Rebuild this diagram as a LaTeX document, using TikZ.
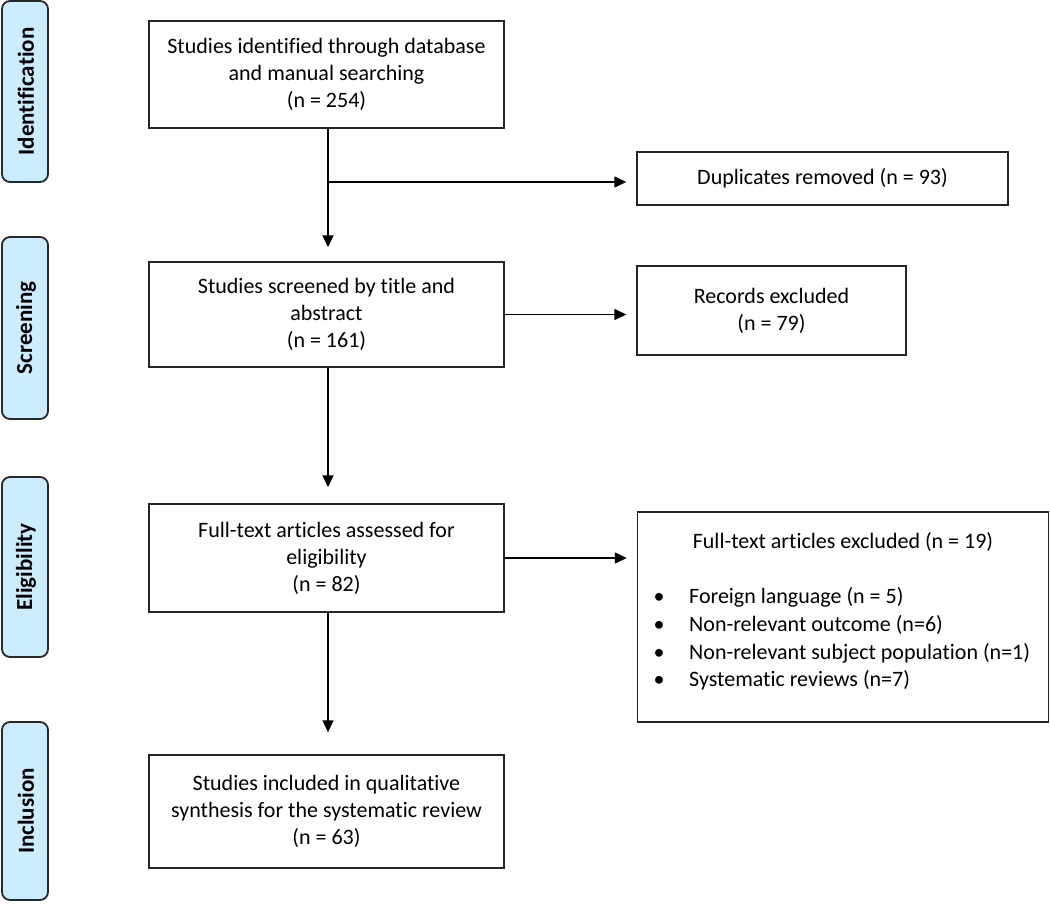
\documentclass[tikz,border=0pt]{standalone}
\usepackage{fontspec}
\setmainfont{Carlito}[Ligatures={NoCommon}]
\usetikzlibrary{arrows.meta}
\definecolor{sidefill}{RGB}{204,236,255}
\definecolor{sideline}{RGB}{40,40,40}
\tikzset{
  side/.style={draw=sideline, line width=1.8pt, fill=sidefill, rounded corners=8pt,
    minimum width=46pt, inner sep=0pt},
  sidetext/.style={rotate=90, font=\fontsize{23}{26}\selectfont\bfseries},
  mainbox/.style={draw=black!85, line width=1.4pt, align=center, inner sep=0pt,
    font=\fontsize{22}{27}\selectfont},
  arr/.style={line width=1.4pt, -{Triangle[length=12pt,width=11pt]}},
  boxtext/.style={font=\fontsize{22}{27}\selectfont, inner sep=0pt},
}
\begin{document}
\begin{tikzpicture}[x=1pt,y=-1pt]
\useasboundingbox (0,0) rectangle (1050,904);
% side labels
\node[side, minimum height=181pt] (sid) at (25,91.5) {};
\node[sidetext] (tid) at (26,91.5) {Identification};
\node[side, minimum height=182pt] (sscr) at (25,328) {};
\node[sidetext] (tscr) at (26,328) {Screening};
\node[side, minimum height=180pt] (seli) at (25,567) {};
\node[sidetext] (teli) at (26,567) {Eligibility};
\node[side, minimum height=178pt] (sinc) at (25,811) {};
\node[sidetext] (tinc) at (26,811) {Inclusion};
% main boxes
\node[mainbox, minimum width=355pt, minimum height=107pt] (b1) at (326.5,74.5)
  {Studies identified through database\\and manual searching\\(n = 254)};
\node[mainbox, minimum width=355pt, minimum height=105pt] (b2) at (326.5,314.5)
  {Studies screened by title and\\abstract\\(n = 161)};
\node[mainbox, minimum width=355pt, minimum height=108pt] (b3) at (326.5,558)
  {Full-text articles assessed for\\eligibility\\(n = 82)};
\node[mainbox, minimum width=355pt, minimum height=113pt] (b4) at (326.5,811.5)
  {Studies included in qualitative\\synthesis for the systematic review\\(n = 63)};
% right boxes
\node[mainbox, minimum width=371pt, minimum height=53pt] (dup) at (822.5,178.5)
  {Duplicates removed (n = 93)};
\node[mainbox, minimum width=269pt, minimum height=89pt] (rec) at (771.5,310.5)
  {Records excluded\\(n = 79)};
\node[mainbox, minimum width=411pt, minimum height=210pt] (ex) at (843,617) {};
\node[boxtext, anchor=base] (ext) at (843,548) {Full-text articles excluded (n = 19)};
\node[boxtext, anchor=base] (bu1) at (659,603) {\textbullet};
\node[boxtext, anchor=base west] (l1) at (689,603) {Foreign language (n = 5)};
\node[boxtext, anchor=base] (bu2) at (659,631) {\textbullet};
\node[boxtext, anchor=base west] (l2) at (689,631) {Non-relevant outcome (n=6)};
\node[boxtext, anchor=base] (bu3) at (659,659) {\textbullet};
\node[boxtext, anchor=base west] (l3) at (689,659) {Non-relevant subject population (n=1)};
\node[boxtext, anchor=base] (bu4) at (659,686) {\textbullet};
\node[boxtext, anchor=base west] (l4) at (689,686) {Systematic reviews (n=7)};
% connectors
\coordinate (j1) at (328,182);
\draw[arr, shorten >=14pt] (b1.south -| j1) -- (b2.north -| j1);
\draw[arr, shorten >=10pt] (j1) -- (j1 -| dup.west);
\draw[arr, shorten >=16pt] (b2.south -| j1) -- (b3.north -| j1);
\draw[arr, shorten >=10pt] (b2.east) -- (b2.east -| rec.west);
\draw[arr, shorten >=22pt] (b3.south -| j1) -- (b4.north -| j1);
\draw[arr, shorten >=10pt] (b3.east) -- (b3.east -| ex.west);
\end{tikzpicture}
\end{document}
